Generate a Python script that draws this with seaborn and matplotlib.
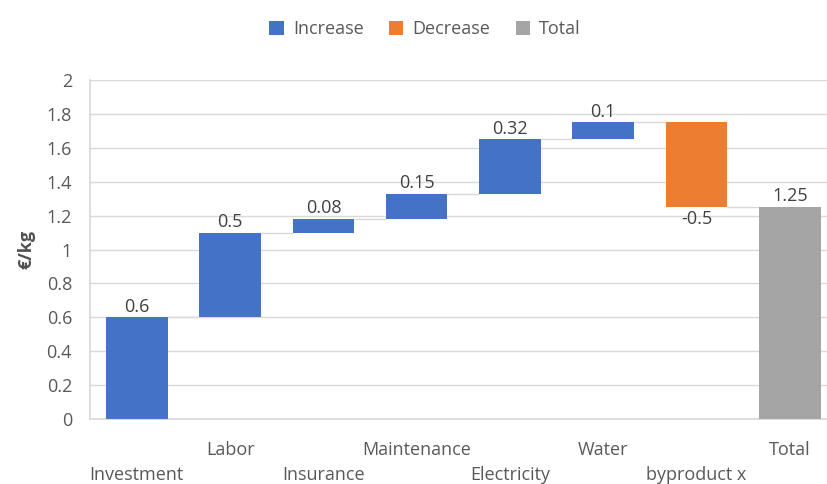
import matplotlib
matplotlib.use("Agg")
import matplotlib.pyplot as plt
from matplotlib.patches import Patch
import numpy as np
import pandas as pd
import seaborn as sns

# Cost build-up per kg of product
categories = ["Investment", "Labor", "Insurance", "Maintenance",
              "Electricity", "Water", "byproduct x", "Total"]
changes = [0.6, 0.5, 0.08, 0.15, 0.32, 0.1, -0.5, 1.25]
kinds = ["Increase", "Increase", "Increase", "Increase",
         "Increase", "Increase", "Decrease", "Total"]
value_labels = ["0.6", "0.5", "0.08", "0.15", "0.32", "0.1", "-0.5", "1.25"]
y_ticks = [0, 0.2, 0.4, 0.6, 0.8, 1, 1.2, 1.4, 1.6, 1.8, 2]

colors = {"Increase": "#4472C4", "Decrease": "#ED7D31", "Total": "#A5A5A5"}
text_color = "#595959"
fs = 13

sns.set_theme(style="white")
plt.rcParams["font.family"] = ["Open Sans", "DejaVu Sans"]

# Floating-bar geometry: running level before/after each step
levels_after = []
level = 0.0
bottoms = []
for ch, kind in zip(changes, kinds):
    if kind == "Total":
        bottoms.append(0.0)
        level = ch
    else:
        start = level
        level = level + ch
        bottoms.append(min(start, level))
    levels_after.append(level)

df = pd.DataFrame({
    "category": categories,
    "height": np.abs(changes),
    "kind": kinds,
})

fig = plt.figure(figsize=(8.27, 4.84), dpi=100)
ax = fig.add_axes([0.109, 0.1343, 0.9025, 0.7004])

bar_w = 0.66
sns.barplot(data=df, x="category", y="height", hue="kind", palette=colors,
            dodge=False, width=bar_w, legend=False, ax=ax,
            order=categories, hue_order=["Increase", "Decrease", "Total"],
            saturation=1, edgecolor="none", linewidth=0, zorder=3)

# Lift each bar onto its running level
for p in ax.patches:
    idx = int(round(p.get_x() + p.get_width() / 2))
    p.set_y(bottoms[idx])

# Connector lines between consecutive bars
for i in range(len(categories) - 1):
    ax.plot([i + bar_w / 2, i + 1 - bar_w / 2], [levels_after[i]] * 2,
            color="#D9D9D9", lw=1.0, zorder=2, solid_capstyle="butt")

# Value labels
for i, (ch, kind, lab) in enumerate(zip(changes, kinds, value_labels)):
    top = bottoms[i] + abs(ch)
    if kind == "Decrease":
        ax.text(i, bottoms[i] - 0.015, lab, ha="center", va="top",
                fontsize=fs, color="#404040")
    else:
        ax.text(i, top + 0.01, lab, ha="center", va="bottom",
                fontsize=fs, color="#404040")

ax.set_xlim(-0.5, len(categories) - 0.5)
ax.set_ylim(0, 2)
ax.set_yticks(y_ticks)
ax.set_yticklabels([f"{t:g}" for t in y_ticks])
ax.yaxis.grid(True, color="#D9D9D9", lw=1.0, zorder=0)
ax.set_axisbelow(True)

# Staggered category labels
stag = [("\n" + c) if i % 2 == 0 else c for i, c in enumerate(categories)]
ax.set_xticks(range(len(categories)))
ax.set_xticklabels(stag, linespacing=1.45)
ax.tick_params(axis="x", length=0, pad=16, labelsize=fs, labelcolor=text_color)
ax.tick_params(axis="y", length=0, pad=13, labelsize=fs, labelcolor=text_color)

ax.set_xlabel("")
ax.set_ylabel("€/kg", fontsize=fs, color="#505050", fontweight="bold",
              labelpad=8)

for side in ["top", "right"]:
    ax.spines[side].set_visible(False)
ax.spines["left"].set_color("#D9D9D9")
ax.spines["bottom"].set_color("#D9D9D9")

handles = [Patch(facecolor=colors[k], edgecolor="none", label=k)
           for k in ["Increase", "Decrease", "Total"]]
leg = fig.legend(handles=handles, loc="center", bbox_to_anchor=(0.514, 0.94),
                 ncol=3, frameon=False, fontsize=fs, handlelength=0.8,
                 handleheight=0.8, handletextpad=0.5, columnspacing=1.4)
for t in leg.get_texts():
    t.set_color(text_color)

fig.savefig("out.png", dpi=100)
